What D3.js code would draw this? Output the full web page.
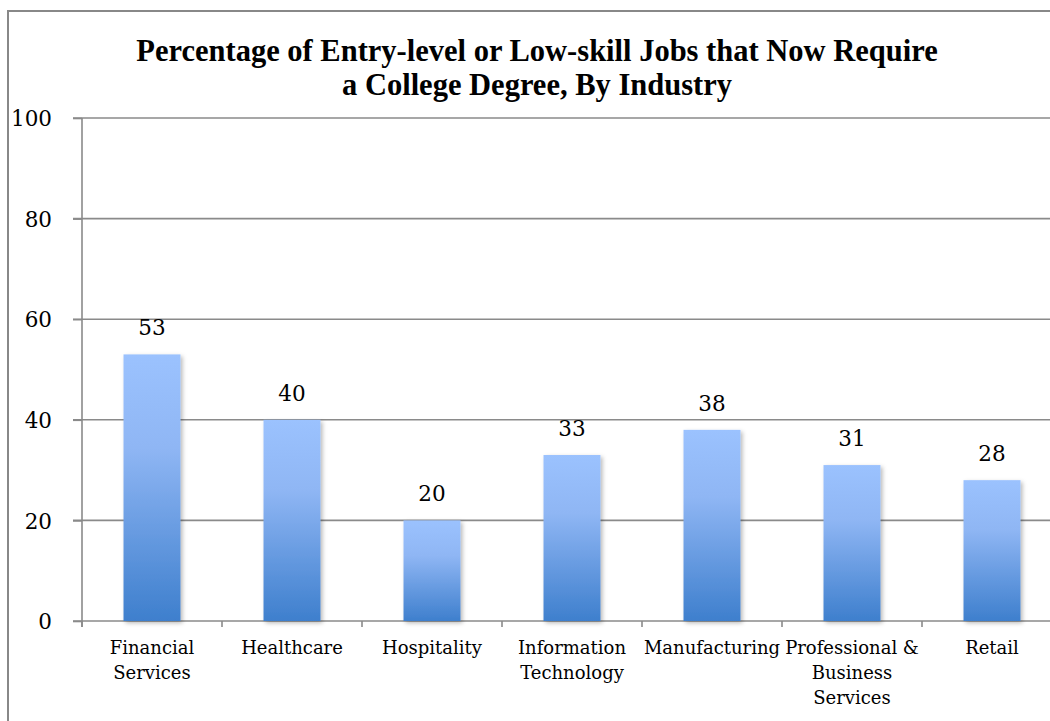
<!DOCTYPE html>
<html>
<head>
<meta charset="utf-8">
<script src="https://cdn.jsdelivr.net/npm/d3@7"></script>
<style>
  body { margin: 0; background: #fff; }
  svg { display: block; }
</style>
</head>
<body>
<svg id="chart"></svg>
<script>
var titleLines = ["Percentage of Entry-level or Low-skill Jobs that Now Require", "a College Degree, By Industry"]
var industries = ["Financial Services", "Healthcare", "Hospitality", "Information Technology", "Manufacturing", "Professional & Business Services", "Retail"]
var percents = [53, 40, 20, 33, 38, 31, 28]
var yTicks = [0, 20, 40, 60, 80, 100]

var dimensions = {
  width: 1050,
  height: 721,
  margin: {
    top: 118,
    left: 82,
    right: -12,
    bottom: 100
  }
}
var plotW = dimensions.width - dimensions.margin.left - dimensions.margin.right
var plotH = dimensions.height - dimensions.margin.top - dimensions.margin.bottom

var gridColor = "#8a8a8a"
var serif = "'DejaVu Serif', serif"

var svg = d3.select("#chart")
  .attr("width", dimensions.width)
  .attr("height", dimensions.height)

// chart border (runs off the right and bottom of the picture)
svg.append("rect")
  .attr("x", 8)
  .attr("y", 11)
  .attr("width", 1100)
  .attr("height", 800)
  .attr("fill", "none")
  .attr("stroke", "#888")
  .attr("stroke-width", 2)

var defs = svg.append("defs")
var grad = defs.append("linearGradient")
  .attr("id", "barGrad")
  .attr("x1", 0).attr("y1", 0).attr("x2", 0).attr("y2", 1)
grad.append("stop").attr("offset", "0%").attr("stop-color", "#9bc2fe")
grad.append("stop").attr("offset", "35%").attr("stop-color", "#8fb6f4")
grad.append("stop").attr("offset", "100%").attr("stop-color", "#3e7fcd")

var shadow = defs.append("filter")
  .attr("id", "barShadow")
  .attr("x", "-20%").attr("y", "-5%").attr("width", "150%").attr("height", "115%")
shadow.append("feDropShadow")
  .attr("dx", 2).attr("dy", 2)
  .attr("stdDeviation", 2)
  .attr("flood-color", "#000")
  .attr("flood-opacity", 0.28)

// title
svg.append("text")
  .attr("x", 537)
  .attr("y", 61)
  .attr("text-anchor", "middle")
  .attr("font-family", "'Liberation Serif', serif")
  .attr("font-weight", "bold")
  .style("font-size", "30.5px")
  .selectAll("tspan")
  .data(titleLines)
  .enter()
  .append("tspan")
    .attr("x", 537)
    .attr("dy", (d, i) => i == 0 ? 0 : 34)
    .text(d => d)

var g = svg.append("g")
  .attr("transform", `translate(${dimensions.margin.left},${dimensions.margin.top})`)

var x = d3.scaleBand()
  .domain(industries)
  .range([0, plotW])
  .paddingInner(0.593)
  .paddingOuter(0.2965)

var y = d3.scaleLinear()
  .domain([0, 100])
  .range([plotH, 0])

// gridlines
g.append("g")
  .selectAll("line")
  .data(yTicks)
  .enter()
  .append("line")
    .attr("x1", -9)
    .attr("x2", plotW)
    .attr("y1", d => y(d))
    .attr("y2", d => y(d))
    .attr("stroke", gridColor)
    .attr("stroke-width", 1.6)

// y axis
var yAxis = g.append("g")
  .call(d3.axisLeft(y).tickValues(yTicks).tickSize(9).tickPadding(21))
yAxis.select(".domain").remove()
yAxis.selectAll(".tick line").attr("stroke", gridColor).attr("stroke-width", 1.6)
yAxis.selectAll("text")
  .attr("font-family", serif)
  .style("font-size", "21.5px")
  .attr("fill", "#000")
  .attr("dy", "0.36em")

g.append("line")
  .attr("x1", 0).attr("x2", 0)
  .attr("y1", y(100)).attr("y2", plotH + 6)
  .attr("stroke", gridColor)
  .attr("stroke-width", 1.6)

// category boundary ticks
var bounds = industries.map((d, i) => i * x.step())
bounds.push(plotW)
g.append("g")
  .selectAll("line")
  .data(bounds)
  .enter()
  .append("line")
    .attr("x1", d => d).attr("x2", d => d)
    .attr("y1", plotH).attr("y2", plotH + 6)
    .attr("stroke", gridColor)
    .attr("stroke-width", 1.6)

// bars
g.append("g")
  .selectAll("rect")
  .data(percents)
  .enter()
  .append("rect")
    .attr("x", (d, i) => x(industries[i]))
    .attr("y", d => y(d))
    .attr("width", x.bandwidth())
    .attr("height", d => plotH - y(d))
    .attr("fill", "url(#barGrad)")
    .attr("filter", "url(#barShadow)")

// value labels
g.append("g")
  .selectAll("text")
  .data(percents)
  .enter()
  .append("text")
    .attr("x", (d, i) => x(industries[i]) + x.bandwidth() / 2)
    .attr("y", d => y(d) - 19)
    .attr("text-anchor", "middle")
    .attr("font-family", serif)
    .style("font-size", "21.5px")
    .text(d => d)

// category labels, wrapped to the band width
var xAxis = g.append("g")
  .attr("transform", `translate(0,${plotH})`)
  .call(d3.axisBottom(x).tickSize(0).tickPadding(0))
xAxis.select(".domain").remove()
xAxis.selectAll("text")
  .attr("font-family", serif)
  .style("font-size", "18px")
  .attr("fill", "#000")
  .attr("y", 33)
  .attr("dy", 0)
  .call(wrap, x.step() - 4)

function wrap(texts, width){
  texts.each(function(){
    var text = d3.select(this)
    var words = text.text().split(/\s+/)
    var line = []
    text.text(null)
    var tspan = text.append("tspan").attr("x", 0).attr("dy", 0)
    words.forEach(w => {
      line.push(w)
      tspan.text(line.join(" "))
      if(tspan.node().getComputedTextLength() > width && line.length > 1){
        line.pop()
        tspan.text(line.join(" "))
        line = [w]
        tspan = text.append("tspan").attr("x", 0).attr("dy", 25).text(w)
      }
    })
  })
}
</script>
</body>
</html>
